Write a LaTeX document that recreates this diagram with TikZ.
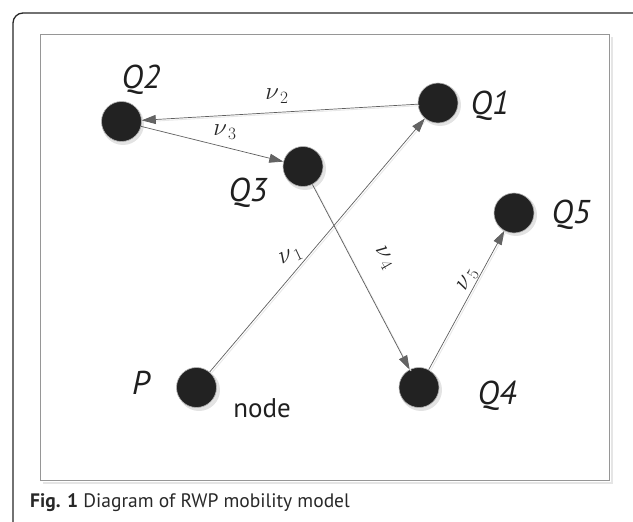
\documentclass[tikz,border=0pt]{standalone}
\usepackage{fontspec}
\newfontfamily\labfont{PT Sans}
\usetikzlibrary{arrows.meta}
\definecolor{nodefill}{RGB}{34,34,34}
\definecolor{edgegray}{RGB}{95,95,95}
\definecolor{tipgray}{RGB}{100,100,100}
\definecolor{framegray}{RGB}{150,150,150}
\definecolor{captext}{RGB}{40,40,40}
\begin{document}
\begin{tikzpicture}[x=1pt,y=-1pt,
  mnode/.style={circle, fill=nodefill, draw=gray!60, line width=0.6pt, minimum size=40pt, inner sep=0pt},
  qlabel/.style={font=\labfont\itshape\fontsize{33}{38}\selectfont, text=black!88, anchor=base, inner sep=0pt},
  vlabel/.style={font=\fontsize{26}{30}\selectfont, text=black!85, inner sep=0pt},
  move/.style={draw=edgegray, line width=0.7pt, -{Triangle[length=14pt,width=9pt,fill=tipgray]}},
  mshadow/.style={draw=gray!18, line width=0.9pt}
]
\useasboundingbox (0,0) rectangle (633,522);
\begin{scope}
  \clip (0,0) rectangle (633,522);
  \draw[line width=1.3pt, rounded corners=10pt, draw=black!85] (13,13) rectangle (652,545);
\end{scope}
% inner frame
\draw[gray!20, line width=1.5pt] (612,37) -- (612,483) -- (43,483);
\draw[framegray, line width=1pt] (40,34) rectangle (609,480);

% node shadows
\foreach \x/\y in {123/124, 305/169, 440/105, 516/215, 199/390, 421/390}
  \fill[gray!22] (\x,\y) circle (21pt);

% nodes
\node[mnode] (Q2) at (121.5,121.5) {};
\node[mnode] (Q3) at (303,166.5) {};
\node[mnode] (Q1) at (438,103) {};
\node[mnode] (Q5) at (514,213) {};
\node[mnode] (P)  at (196.5,387.5) {};
\node[mnode] (Q4) at (419,387.5) {};

% edge shadows
\begin{scope}[transform canvas={shift={(1.5pt,-1.5pt)}}]
  \draw[mshadow] (P) -- (Q1);
  \draw[mshadow] (Q3) -- (Q4);
  \draw[mshadow] (Q4) -- (Q5);
  \draw[mshadow] (Q1) -- (Q2);
\end{scope}

% edges
\draw[move] (Q1) -- (Q2);
\draw[move] (Q2) -- (Q3);
\draw[move] (P) -- (Q1);
\draw[move] (Q3) -- (Q4);
\draw[move] (Q4) -- (Q5);

% edge labels
\node[vlabel] (l2) at (277,96) {$\nu_{\,2}$};
\node[vlabel] (l3) at (225,132) {$\nu_{\,3}$};
\node[vlabel, rotate=25] (l1) at (291,256) {$\nu_{\,1}$};
\node[vlabel, rotate=-60] (l4) at (384,258) {$\nu_{\,4}$};
\node[vlabel, rotate=60] (l5) at (468,280) {$\nu_{\,5}$};

% node labels
\node[qlabel] (tQ2) at (141,88) {Q2};
\node[qlabel] (tQ1) at (490,114) {Q1};
\node[qlabel] (tQ5) at (571,223) {Q5};
\node[qlabel] (tQ3) at (248,201) {Q3};
\node[qlabel] (tP)  at (141,394) {P};
\node[qlabel] (tQ4) at (497,404) {Q4};
\node[anchor=base, inner sep=0pt, font=\labfont\fontsize{27}{31}\selectfont, text=black!88] (tnode) at (262,417) {node};

% caption
\node[anchor=base west, inner sep=0pt, font=\labfont\fontsize{19.5}{23}\selectfont, text=captext] (cap) at (30,507) {\textbf{Fig. 1} Diagram of RWP mobility model};
\end{tikzpicture}
\end{document}
